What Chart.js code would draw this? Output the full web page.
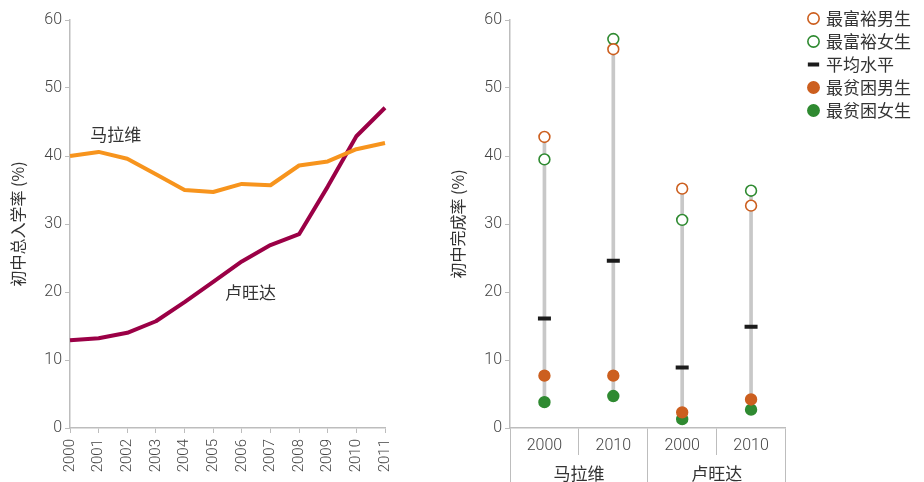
<!DOCTYPE html>
<html>
<head>
<meta charset="utf-8">
<script src="https://cdn.jsdelivr.net/npm/chart.js@4.4.1/dist/chart.umd.min.js"></script>
<style>
  html, body { margin: 0; padding: 0; background: #fff; }
  #wrap { position: relative; width: 924px; height: 482px; }
  #enrolChart { position: absolute; left: 0; top: 0; }
  #completionChart { position: absolute; left: 440px; top: 0; }
</style>
</head>
<body>
<div id="wrap">
  <canvas id="enrolChart" width="440" height="482"></canvas>
  <canvas id="completionChart" width="484" height="482"></canvas>
</div>
<script>
// Left panel: lower secondary gross enrolment ratio
const years = ['2000', '2001', '2002', '2003', '2004', '2005', '2006', '2007', '2008', '2009', '2010', '2011'];
const malawiEnrol = [40.0, 40.6, 39.6, 37.3, 35.0, 34.7, 35.9, 35.7, 38.6, 39.2, 41.0, 41.9];
const rwandaEnrol = [12.9, 13.2, 14.0, 15.7, 18.5, 21.5, 24.5, 26.9, 28.5, 35.5, 42.9, 47.1];

// Right panel: lower secondary completion rate
const groupYears = ['2000', '2010', '2000', '2010'];
const countries = ['马拉维', '卢旺达'];
const richestBoys = [42.8, 55.7, 35.2, 32.7];
const richestGirls = [39.5, 57.2, 30.6, 34.9];
const nationalAvg = [16.1, 24.6, 8.9, 14.9];
const poorestBoys = [7.7, 7.7, 2.3, 4.2];
const poorestGirls = [3.8, 4.7, 1.3, 2.7];

const yTicks = [0, 10, 20, 30, 40, 50, 60];

const tickFont = { family: 'Roboto', size: 16, weight: '300' };
const yearFont = { family: 'Roboto', size: 15, weight: '300' };
const cjkFont = 'Noto Sans CJK SC';
const axisGrey = '#bdbdbd';
const textGrey = '#444';
const orange = '#cc5f1f';
const green = '#2f8a31';

// text labels next to the two lines, placed in data coordinates
const lineLabels = [
    { text: '马拉维', index: 1.6, value: 43.1 },
    { text: '卢旺达', index: 6.3, value: 19.9 }
];

const lineLabelPlugin = {
    id: 'lineLabels',
    afterDatasetsDraw(chart) {
        const ctx = chart.ctx;
        const xs = chart.scales.x, ys = chart.scales.y;
        ctx.save();
        ctx.font = '17px "' + cjkFont + '"';
        ctx.fillStyle = '#333';
        ctx.textAlign = 'center';
        ctx.textBaseline = 'middle';
        lineLabels.forEach(l => {
            ctx.fillText(l.text, xs.getPixelForValue(l.index), ys.getPixelForValue(l.value));
        });
        ctx.restore();
    }
};

function valueAxis(title) {
    return {
        min: 0,
        max: 60,
        afterBuildTicks(scale) { scale.ticks = yTicks.map(v => ({ value: v })); },
        afterFit(scale) { scale.width = 70; },
        grid: { drawOnChartArea: false, tickLength: 5, color: axisGrey },
        border: { color: axisGrey, width: 1.5 },
        ticks: { font: tickFont, color: textGrey, padding: 3 },
        title: {
            display: true,
            text: title,
            font: { family: cjkFont, size: 16 },
            color: '#333',
            padding: { top: 8, bottom: 0 }
        }
    };
}

new Chart(document.getElementById('enrolChart'), {
    type: 'line',
    data: {
        labels: years,
        datasets: [
            {
                label: '马拉维',
                data: malawiEnrol,
                borderColor: '#f7941d',
                borderWidth: 4,
                pointRadius: 0,
                tension: 0,
                borderJoinStyle: 'round'
            },
            {
                label: '卢旺达',
                data: rwandaEnrol,
                borderColor: '#9b0046',
                borderWidth: 4,
                pointRadius: 0,
                tension: 0,
                borderJoinStyle: 'round'
            }
        ]
    },
    options: {
        responsive: false,
        animation: false,
        devicePixelRatio: 1,
        events: [],
        layout: { padding: { top: 20, right: 55, left: 0, bottom: 0 } },
        scales: {
            x: {
                afterFit(scale) { scale.height = 54; },
                grid: { drawOnChartArea: false, tickLength: 5, color: axisGrey },
                border: { color: axisGrey, width: 1.5 },
                ticks: { font: yearFont, color: textGrey, minRotation: 90, maxRotation: 90, padding: 6 }
            },
            y: valueAxis('初中总入学率 (%)')
        },
        plugins: {
            legend: { display: false },
            tooltip: { enabled: false }
        }
    },
    plugins: [lineLabelPlugin]
});

// grey range bar from lowest to highest group value
const rangeBars = groupYears.map((_, i) => {
    const vals = [richestBoys[i], richestGirls[i], nationalAvg[i], poorestBoys[i], poorestGirls[i]];
    return [Math.min(...vals), Math.max(...vals)];
});

function markerSet(label, data, color, filled, style) {
    return {
        type: 'line',
        label: label,
        data: data,
        showLine: false,
        pointStyle: style || 'circle',
        pointRadius: style === 'line' ? 6.5 : 5.4,
        pointBorderWidth: style === 'line' ? 4 : 1.6,
        pointBorderColor: color,
        pointBackgroundColor: filled ? color : '#ffffff',
        borderColor: color,
        backgroundColor: filled ? color : '#ffffff'
    };
}

new Chart(document.getElementById('completionChart'), {
    type: 'bar',
    data: {
        labels: groupYears,
        datasets: [
            markerSet('最富裕男生', richestBoys, orange, false),
            markerSet('最富裕女生', richestGirls, green, false),
            markerSet('平均水平', nationalAvg, '#1b1b1b', true, 'line'),
            markerSet('最贫困男生', poorestBoys, orange, true),
            markerSet('最贫困女生', poorestGirls, green, true),
            {
                type: 'bar',
                label: 'range',
                data: rangeBars,
                backgroundColor: '#c8c8c8',
                barThickness: 3
            }
        ]
    },
    options: {
        responsive: false,
        animation: false,
        devicePixelRatio: 1,
        events: [],
        layout: { padding: { top: 4, right: 3, left: 0, bottom: 0 } },
        scales: {
            x: {
                offset: true,
                afterFit(scale) { scale.height = 27; },
                grid: { offset: true, drawOnChartArea: false, tickLength: 27, color: axisGrey },
                border: { color: axisGrey, width: 1.5 },
                ticks: { font: tickFont, color: textGrey, padding: -19 }
            },
            x2: {
                type: 'category',
                labels: countries,
                position: 'bottom',
                weight: 1,
                offset: true,
                afterFit(scale) { scale.height = 27; },
                grid: { offset: true, drawOnChartArea: false, tickLength: 27, color: axisGrey },
                border: { display: false },
                ticks: { font: { family: cjkFont, size: 17 }, color: '#333', padding: -19 }
            },
            topSpace: {
                type: 'category',
                labels: countries,
                position: 'top',
                afterFit(scale) { scale.height = 16; },
                grid: { display: false },
                border: { display: false },
                ticks: { display: false }
            },
            rightSpace: {
                type: 'linear',
                position: 'right',
                afterFit(scale) { scale.width = 18; },
                grid: { display: false },
                border: { display: false },
                ticks: { display: false }
            },
            y: valueAxis('初中完成率 (%)')
        },
        plugins: {
            legend: {
                position: 'right',
                align: 'start',
                maxWidth: 160,
                labels: {
                    usePointStyle: true,
                    boxWidth: 8,
                    boxHeight: 8,
                    padding: 6,
                    color: '#333',
                    font: { family: cjkFont, size: 17 },
                    filter: item => item.datasetIndex < 5
                }
            },
            tooltip: { enabled: false }
        }
    }
});
</script>
</body>
</html>
